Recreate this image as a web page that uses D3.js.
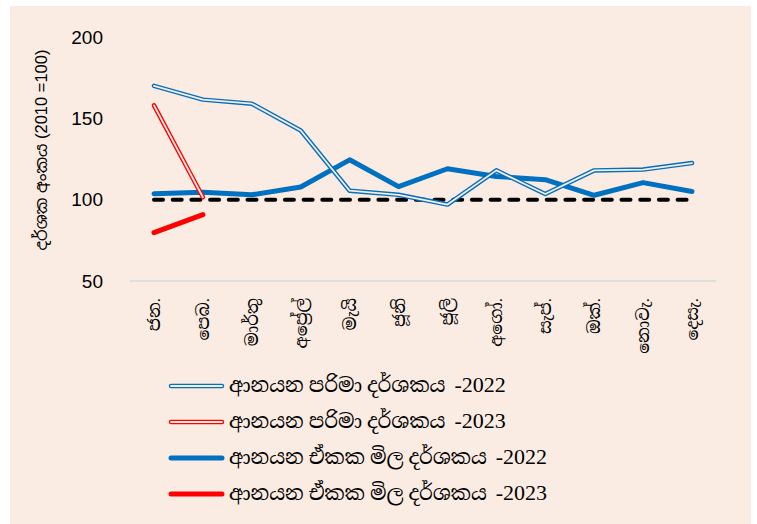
<!DOCTYPE html>
<html>
<head>
<meta charset="utf-8">
<script src="https://cdn.jsdelivr.net/npm/d3@7"></script>
<style>
  body { margin: 0; background: #ffffff; }
  svg { display: block; }
</style>
</head>
<body>
<svg></svg>
<script>
// Chart size
const width = 757;
const height = 524;

// Data
const months = ["ජන.", "පෙබ.", "මාර්තු", "අප්‍රේල්", "මැයි", "ජූනි", "ජූලි", "අගෝ.", "සැප්.", "ඔක්.", "නොවැ.", "දෙසැ."];
const volume2022 = [170, 161.5, 159, 142.5, 105.5, 103, 97, 118, 103.5, 118, 118.5, 122.5];
const volume2023 = [158, 101.5];
const price2022 = [103.7, 104.5, 103, 107.8, 124.5, 108, 119, 114.3, 112.3, 102.7, 110.5, 105];
const price2023 = [79.7, 90.8];
const baseLine = months.map(() => 100);
const yTicks = [50, 100, 150, 200];

const legendItems = [
  { label: "ආනයන පරිමා දර්ශකය", year: "-2022", color: "#0070C0", double: true },
  { label: "ආනයන පරිමා දර්ශකය", year: "-2023", color: "#FF0000", double: true },
  { label: "ආනයන ඒකක මිල දර්ශකය", year: "-2022", color: "#0070C0", double: false },
  { label: "ආනයන ඒකක මිල දර්ශකය", year: "-2023", color: "#FF0000", double: false }
];

const bg = "#FBECE3";
const sinhalaFont = "'Liberation Serif', 'Noto Serif Sinhala', 'Noto Sans Sinhala', serif";
const sansFont = "'Liberation Sans', 'Noto Sans Sinhala', sans-serif";

const svg = d3.select("svg")
  .attr("width", width)
  .attr("height", height);

// Background
svg.append("rect")
  .attr("x", 10).attr("y", 6)
  .attr("width", 741).attr("height", height - 6)
  .attr("fill", bg);

// Scales
const x = d3.scalePoint()
  .domain(months)
  .range([154, 692]);

const y = d3.scaleLinear()
  .domain([50, 200])
  .range([281, 37]);

// Bottom axis line
svg.append("line")
  .attr("x1", 130).attr("x2", 716)
  .attr("y1", y(50)).attr("y2", y(50))
  .attr("stroke", "#D9D9D9")
  .attr("stroke-width", 1.5);

// Y tick labels
svg.append("g")
  .selectAll("text")
  .data(yTicks)
  .join("text")
  .attr("x", 103)
  .attr("y", d => y(d))
  .attr("dy", "0.35em")
  .attr("text-anchor", "end")
  .attr("font-family", "'Liberation Sans', sans-serif")
  .attr("font-size", 19)
  .attr("fill", "#000")
  .text(d => d);

// Y axis title
svg.append("text")
  .attr("transform", "translate(47,150) rotate(-90)")
  .attr("text-anchor", "middle")
  .attr("font-family", sansFont)
  .attr("font-size", 16.5)
  .attr("fill", "#000")
  .text("දර්ශක අංකය (2010 =100)");

// Month labels (rotated)
svg.append("g")
  .selectAll("text")
  .data(months)
  .join("text")
  .attr("transform", d => `translate(${x(d) + 6},298) rotate(-90)`)
  .attr("text-anchor", "end")
  .attr("font-family", sinhalaFont)
  .attr("font-size", 17)
  .attr("fill", "#000")
  .text(d => d);

const line = d3.line()
  .x((d, i) => x(months[i]))
  .y(d => y(d));

// Double line helper
function doubleLine(data, color) {
  svg.append("path")
    .datum(data)
    .attr("d", line)
    .attr("fill", "none")
    .attr("stroke", color)
    .attr("stroke-width", 4.5)
    .attr("stroke-linejoin", "round")
    .attr("stroke-linecap", "round");
  svg.append("path")
    .datum(data)
    .attr("d", line)
    .attr("fill", "none")
    .attr("stroke", bg)
    .attr("stroke-width", 1.8)
    .attr("stroke-linejoin", "round")
    .attr("stroke-linecap", "round");
}

function thickLine(data, color) {
  svg.append("path")
    .datum(data)
    .attr("d", line)
    .attr("fill", "none")
    .attr("stroke", color)
    .attr("stroke-width", 5)
    .attr("stroke-linejoin", "round")
    .attr("stroke-linecap", "round");
}

// Baseline at 100
svg.append("path")
  .datum(baseLine)
  .attr("d", line)
  .attr("fill", "none")
  .attr("stroke", "#000")
  .attr("stroke-width", 4)
  .attr("stroke-dasharray", "9,9.7")
  .attr("stroke-linecap", "round");

thickLine(price2022, "#0070C0");
doubleLine(volume2022, "#0070C0");
doubleLine(volume2023, "#FF0000");
thickLine(price2023, "#FF0000");

// Legend
const legend = svg.append("g")
  .selectAll("g")
  .data(legendItems)
  .join("g")
  .attr("transform", (d, i) => `translate(0,${386 + i * 36})`);

legend.each(function(d) {
  const g = d3.select(this);
  g.append("line").attr("x1", 171).attr("x2", 222).attr("y1", 0).attr("y2", 0)
    .attr("stroke", d.color).attr("stroke-width", d.double ? 4.5 : 5).attr("stroke-linecap", "round");
  if (d.double) {
    g.append("line").attr("x1", 171).attr("x2", 222).attr("y1", 0).attr("y2", 0)
      .attr("stroke", bg).attr("stroke-width", 1.8).attr("stroke-linecap", "round");
  }
});

const legendText = legend.append("text")
  .attr("x", 229)
  .attr("y", 0)
  .attr("dy", "0.35em")
  .attr("font-family", sinhalaFont)
  .attr("fill", "#000");

legendText.append("tspan")
  .attr("font-size", 20)
  .text(d => d.label);

legendText.append("tspan")
  .attr("dx", 9)
  .attr("font-size", 22)
  .text(d => d.year);
</script>
</body>
</html>
